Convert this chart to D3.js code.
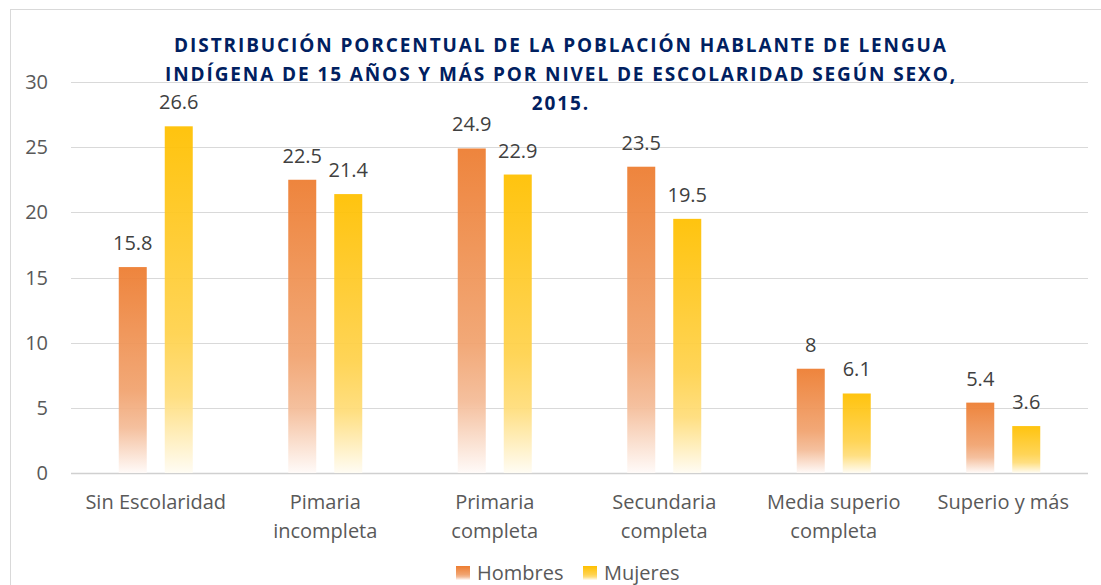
<!DOCTYPE html>
<html>
<head>
<meta charset="utf-8">
<script src="https://cdn.jsdelivr.net/npm/d3@7"></script>
<style>
  body { margin: 0; background: #fff; }
  text { font-family: "Open Sans", sans-serif; }
</style>
</head>
<body>
<div id="chart"></div>
<script>
// chart data
var categories = [["Sin Escolaridad"], ["Pimaria", "incompleta"], ["Primaria", "completa"],
  ["Secundaria", "completa"], ["Media superio", "completa"], ["Superio y más"]];
var hombres = [15.8, 22.5, 24.9, 23.5, 8, 5.4];
var mujeres = [26.6, 21.4, 22.9, 19.5, 6.1, 3.6];
var seriesNames = ["Hombres", "Mujeres"];
var yTicks = [0, 5, 10, 15, 20, 25, 30];
var titleLines = ["DISTRIBUCIÓN PORCENTUAL DE LA POBLACIÓN HABLANTE DE LENGUA",
  "INDÍGENA DE 15 AÑOS Y MÁS POR NIVEL DE ESCOLARIDAD SEGÚN SEXO,",
  "2015."];

var width = 1101, height = 585;
var plotLeft = 71, plotRight = 1088, plotTop = 82, plotBottom = 473;

var svg = d3.select("#chart").append("svg")
  .attr("width", width)
  .attr("height", height);

// gradients, solid at the top, fading to white at the base
var defs = svg.append("defs");
var colors = [["#ED7D31", "#F1A36F", "#F4BC98", "#FFFAF8"], ["#FFC000", "#FFD24D", "#FFDD7A", "#FFFCF3"]];
colors.forEach(function(c, i) {
  var g = defs.append("linearGradient")
    .attr("id", "grad" + i)
    .attr("x1", 0).attr("y1", 0).attr("x2", 0).attr("y2", 1);
  g.append("stop").attr("offset", "0%").attr("stop-color", c[0]);
  g.append("stop").attr("offset", "60%").attr("stop-color", c[1]);
  g.append("stop").attr("offset", "78%").attr("stop-color", c[2]);
  g.append("stop").attr("offset", "100%").attr("stop-color", c[3]);
});

// outer border
svg.append("rect")
  .attr("x", 10.5).attr("y", 9.5)
  .attr("width", 1200).attr("height", 700)
  .attr("fill", "none")
  .attr("stroke", "#d9d9d9");

var x = d3.scaleBand()
  .domain(d3.range(categories.length))
  .range([plotLeft, plotRight]);

var y = d3.scaleLinear()
  .domain([0, 30])
  .range([plotBottom, plotTop]);

// gridlines
svg.append("g").selectAll("line")
  .data(yTicks)
  .enter()
  .append("line")
  .attr("x1", plotLeft).attr("x2", plotRight)
  .attr("y1", function(d) { return Math.round(y(d)) + 0.5; })
  .attr("y2", function(d) { return Math.round(y(d)) + 0.5; })
  .attr("stroke", function(d) { return d === 0 ? "#d0d0d0" : "#d9d9d9"; })
  .attr("stroke-width", function(d) { return d === 0 ? 1.5 : 1; });

// y tick labels
svg.append("g").selectAll("text")
  .data(yTicks)
  .enter()
  .append("text")
  .attr("x", 48)
  .attr("y", function(d) { return y(d); })
  .attr("dy", "0.35em")
  .attr("text-anchor", "end")
  .attr("font-size", 20)
  .attr("fill", "#595959")
  .text(function(d) { return d; });

// bars
var barW = 28, gap = 18;
var series = [hombres, mujeres];
series.forEach(function(vals, s) {
  var g = svg.append("g");
  var xpos = function(d, i) {
    var c = x(i) + x.bandwidth() / 2;
    return s === 0 ? c - gap / 2 - barW : c + gap / 2;
  };
  g.selectAll("rect")
    .data(vals)
    .enter()
    .append("rect")
    .attr("x", xpos)
    .attr("y", function(d) { return y(d); })
    .attr("width", barW)
    .attr("height", function(d) { return y(0) - y(d); })
    .attr("fill", "url(#grad" + s + ")")
    .attr("fill-opacity", 0.94);
  g.selectAll("text")
    .data(vals)
    .enter()
    .append("text")
    .attr("x", function(d, i) { return xpos(d, i) + barW / 2; })
    .attr("y", function(d) { return y(d) - 17; })
    .attr("text-anchor", "middle")
    .attr("font-size", 20)
    .attr("fill", "#404040")
    .text(function(d) { return d; });
});

// category labels
var cat = svg.append("g").selectAll("text")
  .data(categories)
  .enter()
  .append("text")
  .attr("text-anchor", "middle")
  .attr("font-size", 20)
  .attr("fill", "#595959")
  .attr("transform", function(d, i) { return "translate(" + (x(i) + x.bandwidth() / 2) + ",509)"; });
cat.selectAll("tspan")
  .data(function(d) { return d; })
  .enter()
  .append("tspan")
  .attr("x", 0)
  .attr("y", function(d, i) { return i * 29; })
  .text(function(d) { return d; });

// title
svg.append("g").selectAll("text")
  .data(titleLines)
  .enter()
  .append("text")
  .attr("x", 561)
  .attr("y", function(d, i) { return 52 + i * 29; })
  .attr("text-anchor", "middle")
  .attr("font-size", 19)
  .attr("font-weight", "bold")
  .attr("letter-spacing", 1.9)
  .attr("fill", "#002060")
  .text(function(d) { return d; });

// legend
var legend = svg.append("g").selectAll("g")
  .data(seriesNames)
  .enter()
  .append("g")
  .attr("transform", function(d, i) { return "translate(" + (456 + i * 127) + ",566)"; });
legend.append("rect")
  .attr("width", 14).attr("height", 14)
  .attr("fill", function(d, i) { return "url(#grad" + i + ")"; });
legend.append("text")
  .attr("x", 21).attr("y", 14)
  .attr("font-size", 20)
  .attr("fill", "#595959")
  .text(function(d) { return d; });
</script>
</body>
</html>
